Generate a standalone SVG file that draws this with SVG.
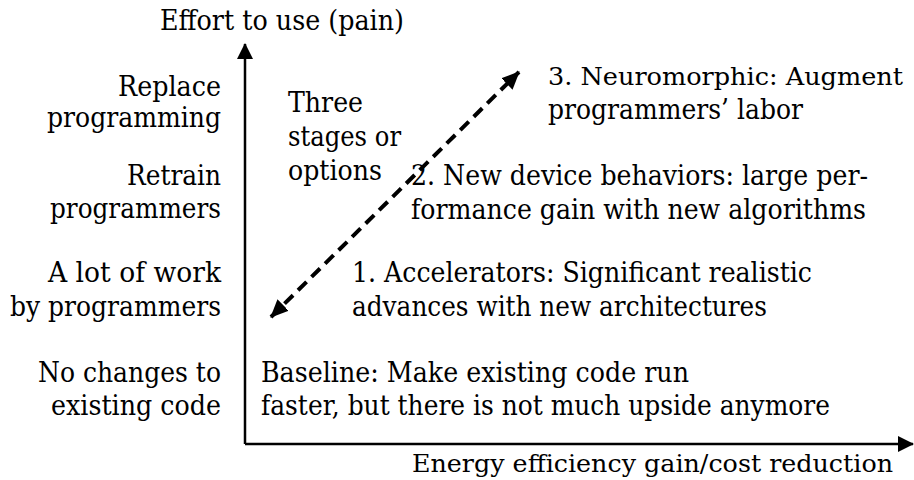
<svg xmlns="http://www.w3.org/2000/svg" width="914" height="480" viewBox="0 0 914 480">
  <style>
    text { font-family: 'DejaVu Serif', 'Liberation Serif', serif; font-size: 27px; fill: #000; }
    .tight { font-size: 25px; }
    .axis { stroke: #000; stroke-width: 2.5; fill: none; }
    .dash { stroke: #000; stroke-width: 4; fill: none; stroke-dasharray: 12 7; }
  </style>
  <defs>
    <marker id="head" viewBox="0 0 16 16" refX="15" refY="8" markerWidth="16" markerHeight="16" markerUnits="userSpaceOnUse" orient="auto">
      <path d="M0,0 L16,8 L0,16 Z" fill="#000"/>
    </marker>
    <marker id="dhead" viewBox="0 0 18 18" refX="17" refY="9" markerWidth="18" markerHeight="18" markerUnits="userSpaceOnUse" orient="auto-start-reverse">
      <path d="M0,1 L18,9 L0,17 Z" fill="#000"/>
    </marker>
  </defs>
  <rect width="914" height="480" fill="#fff"/>

  <!-- axes and stage arrow -->
  <g id="connectors">
    <path class="axis" d="M245,444 L245,44" marker-end="url(#head)"/>
    <path class="axis" d="M245,444 L913,444" marker-end="url(#head)"/>
    <path class="dash" d="M271,317 L519,72" marker-start="url(#dhead)" marker-end="url(#dhead)"/>
  </g>

  <!-- axis titles -->
  <g id="y-title"><text x="160" y="30" textLength="244" lengthAdjust="spacingAndGlyphs">Effort to use (pain)</text></g>
  <g id="x-title"><text class="tight" x="412" y="472" textLength="481" lengthAdjust="spacingAndGlyphs">Energy efficiency gain/cost reduction</text></g>

  <!-- effort levels (right-aligned against the vertical axis) -->
  <g id="level-replace">
    <text x="118" y="96" textLength="103" lengthAdjust="spacingAndGlyphs">Replace</text>
    <text x="47" y="127" textLength="174" lengthAdjust="spacingAndGlyphs">programming</text>
  </g>
  <g id="level-retrain">
    <text x="127" y="185" textLength="94" lengthAdjust="spacingAndGlyphs">Retrain</text>
    <text x="50" y="218" textLength="171" lengthAdjust="spacingAndGlyphs">programmers</text>
  </g>
  <g id="level-work">
    <text x="48" y="282" textLength="173" lengthAdjust="spacingAndGlyphs">A lot of work</text>
    <text x="10" y="316" textLength="211" lengthAdjust="spacingAndGlyphs">by programmers</text>
  </g>
  <g id="level-none">
    <text x="38" y="382" textLength="183" lengthAdjust="spacingAndGlyphs">No changes to</text>
    <text x="51" y="415" textLength="170" lengthAdjust="spacingAndGlyphs">existing code</text>
  </g>

  <!-- stages -->
  <g id="stages-note">
    <text x="288" y="112" textLength="75" lengthAdjust="spacingAndGlyphs">Three</text>
    <text x="288" y="146" textLength="113" lengthAdjust="spacingAndGlyphs">stages or</text>
    <text x="288" y="180" textLength="94" lengthAdjust="spacingAndGlyphs">options</text>
  </g>
  <g id="stage-3">
    <text class="tight" x="548" y="85" textLength="355" lengthAdjust="spacingAndGlyphs">3. Neuromorphic: Augment</text>
    <text x="548" y="119" textLength="255" lengthAdjust="spacingAndGlyphs">programmers’ labor</text>
  </g>
  <g id="stage-2">
    <text x="411" y="185" textLength="457" lengthAdjust="spacingAndGlyphs">2. New device behaviors: large per-</text>
    <text x="411" y="219" textLength="455" lengthAdjust="spacingAndGlyphs">formance gain with new algorithms</text>
  </g>
  <g id="stage-1">
    <text x="352" y="282" textLength="460" lengthAdjust="spacingAndGlyphs">1. Accelerators: Significant realistic</text>
    <text x="352" y="316" textLength="415" lengthAdjust="spacingAndGlyphs">advances with new architectures</text>
  </g>
  <g id="baseline">
    <text x="261" y="382" textLength="428" lengthAdjust="spacingAndGlyphs">Baseline: Make existing code run</text>
    <text x="261" y="415" textLength="569" lengthAdjust="spacingAndGlyphs">faster, but there is not much upside anymore</text>
  </g>
</svg>
